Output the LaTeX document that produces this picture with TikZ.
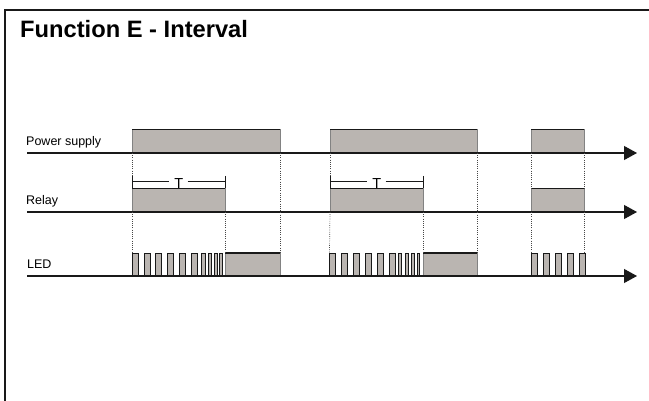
\documentclass[tikz,border=0pt]{standalone}
\usepackage{fontspec}
\setmainfont{Liberation Sans}
\usetikzlibrary{arrows.meta}
\definecolor{boxfill}{RGB}{186,181,177}
\definecolor{edge}{RGB}{25,25,25}
\definecolor{sideline}{RGB}{130,130,130}
\tikzset{
  sigbox/.style={fill=boxfill, draw=sideline, line width=0.6pt, inner sep=0pt, outer sep=0pt},
  pulse/.style={fill=boxfill, draw=edge, line width=0.8pt, inner sep=0pt, outer sep=0pt},
  topedge/.style={draw=edge, line width=1.4pt},
  axis/.style={draw=edge, line width=1.1pt, -{Triangle[length=13pt,width=14pt]}},
  dotline/.style={draw=edge!80, line width=0.7pt, dash pattern=on 0.8pt off 1.4pt},
  bracket/.style={draw=edge, line width=1pt},
  siglabel/.style={anchor=base west, inner sep=0pt, font=\fontsize{12.5}{14}\selectfont},
  tlabel/.style={anchor=south, inner sep=0pt, font=\fontsize{14.5}{15}\selectfont},
}
\newcommand\sigbox[5]{%
  \node[sigbox, anchor=south west, minimum width={(#3-#2)*1pt}, minimum height={(#5-#4)*1pt}] (#1) at (#2,#5) {};
  \draw[topedge] (#1.north west) -- (#1.north east);}
\newcommand\ledpulse[3]{%
  \node[pulse, anchor=south west, minimum width={(#3-#2)*1pt}, minimum height=23pt] (#1) at (#2,276) {};}
\begin{document}
\begin{tikzpicture}[x=1pt,y=-1pt]
\useasboundingbox (0,0) rectangle (649,401);
% frame
\draw[edge, line width=2pt] (5,401) -- (5,10) -- (649,10);
\node[anchor=base west, inner sep=0pt, font=\bfseries\fontsize{23.7}{26}\selectfont] (title) at (20,37.5) {Function E - Interval};
% labels
\node[siglabel] (lpow) at (26,146) {Power supply};
\node[siglabel] (lrel) at (26,205) {Relay};
\node[siglabel] (lled) at (27,269) {LED};
% power boxes
\sigbox{pw1}{132}{280}{129.5}{153}
\sigbox{pw2}{330}{477}{129.5}{153}
\sigbox{pw3}{531}{584}{129.5}{153}
% relay boxes
\sigbox{rl1}{132}{225}{188.5}{212}
\sigbox{rl2}{330}{423}{188.5}{212}
\sigbox{rl3}{531}{584}{188.5}{212}
% led solid boxes
\sigbox{lb1}{225}{280}{253}{276}
\sigbox{lb2}{423}{477}{253}{276}
% led pulses group 1
\ledpulse{a1}{132}{138}
\ledpulse{a2}{144}{150}
\ledpulse{a3}{155.5}{161.5}
\ledpulse{a4}{167.5}{173.5}
\ledpulse{a5}{179.5}{185.5}
\ledpulse{a6}{191}{197}
\ledpulse{a7}{201.5}{205}
\ledpulse{a8}{208}{211.5}
\ledpulse{a9}{214}{217.5}
\ledpulse{a10}{219.5}{222}
% group 2
\ledpulse{b1}{329.5}{335.5}
\ledpulse{b2}{341.5}{347.5}
\ledpulse{b3}{353.5}{359.5}
\ledpulse{b4}{365.5}{371.5}
\ledpulse{b5}{377}{383}
\ledpulse{b6}{389}{395}
\ledpulse{b7}{398.5}{401.5}
\ledpulse{b8}{405}{408.5}
\ledpulse{b9}{411.5}{414.5}
\ledpulse{b10}{417}{419.5}
% group 3
\ledpulse{c1}{531}{537}
\ledpulse{c2}{543}{549}
\ledpulse{c3}{555}{561}
\ledpulse{c4}{567}{573}
\ledpulse{c5}{579}{585}
% axes
\coordinate (ps) at (27,153);  \coordinate (pe) at (637,153);
\coordinate (rs) at (27,212);  \coordinate (re) at (637,212);
\coordinate (ls) at (27,276);  \coordinate (le) at (637,276);
\draw[axis] (ps) -- (pe);
\draw[axis] (rs) -- (re);
\draw[axis] (ls) -- (le);
% brackets T
\coordinate (t1l) at (132,176); \coordinate (t1r) at (225,176);
\coordinate (t2l) at (330,176); \coordinate (t2r) at (423,176);
\draw[bracket] (t1l) -- (rl1.north west);
\draw[bracket] (t1r) -- (rl1.north east);
\draw[bracket] (132,181.7) -- (169.3,181.7);
\draw[bracket] (187.7,181.7) -- (225,181.7);
\node[tlabel] (T1) at (178.8,188.5) {T};
\draw[bracket] (t2l) -- (rl2.north west);
\draw[bracket] (t2r) -- (rl2.north east);
\draw[bracket] (330,181.7) -- (366.7,181.7);
\draw[bracket] (385.7,181.7) -- (423,181.7);
\node[tlabel] (T2) at (376.8,188.5) {T};
% dotted guides
\draw[dotline] (pw1.south west) -- (t1l);
\draw[dotline] (rl1.south west) -- (a1.north west);
\draw[dotline] (rl1.south east) -- (lb1.north west);
\draw[dotline] (pw1.south east) -- (lb1.north east);
\draw[dotline] (pw2.south west) -- (t2l);
\draw[dotline] (rl2.south west) -- (b1.north west);
\draw[dotline] (rl2.south east) -- (lb2.north west);
\draw[dotline] (pw2.south east) -- (lb2.north east);
\draw[dotline] (pw3.south west) -- (rl3.north west);
\draw[dotline] (rl3.south west) -- (c1.north west);
\draw[dotline] (pw3.south east) -- (rl3.north east);
\draw[dotline] (rl3.south east) -- (rl3.south east |- c5.north);
\end{tikzpicture}
\end{document}
